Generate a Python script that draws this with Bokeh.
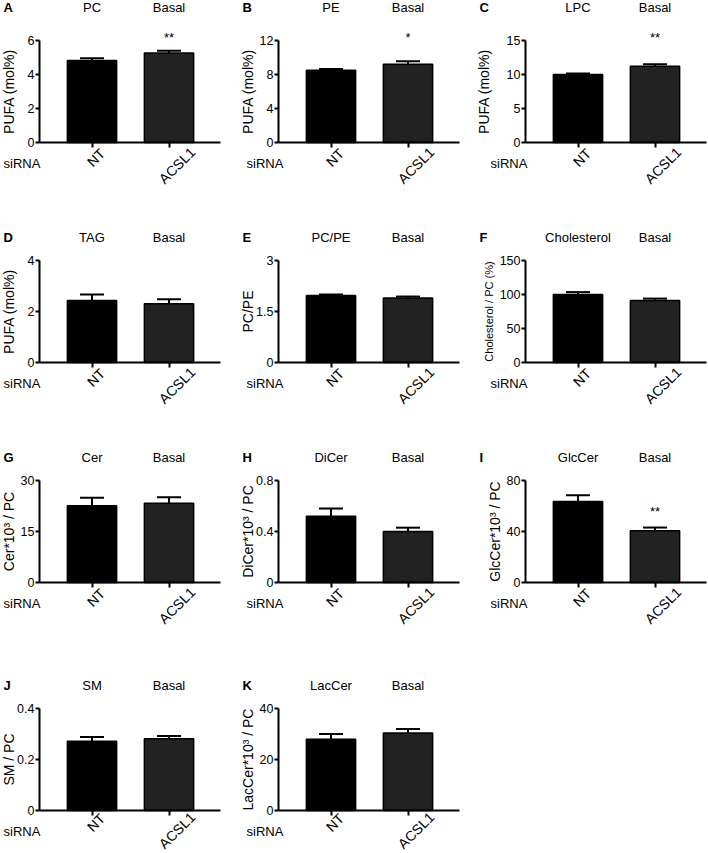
import math
from bokeh.plotting import figure
from bokeh.models import Range1d, FixedTicker, Label, Whisker, TeeHead, ColumnDataSource
from bokeh.layouts import column, row
from bokeh.embed import file_html
from bokeh.resources import INLINE

# ---------------- data ----------------
categories = ["NT", "ACSL1"]
letters = ["A", "B", "C", "D", "E", "F", "G", "H", "I", "J", "K"]
lipids = ["PC", "PE", "LPC", "TAG", "PC/PE", "Cholesterol", "Cer", "DiCer", "GlcCer", "SM", "LacCer"]
condition = "Basal"
group_label = "siRNA"
y_labels = ["PUFA (mol%)", "PUFA (mol%)", "PUFA (mol%)", "PUFA (mol%)", "PC/PE",
            "Cholesterol / PC (%)", "Cer*10³ / PC", "DiCer*10³ / PC", "GlcCer*10³ / PC",
            "SM / PC", "LacCer*10³ / PC"]
y_ticks = [[0, 2, 4, 6], [0, 4, 8, 12], [0, 5, 10, 15], [0, 2, 4], [0, 1.5, 3],
           [0, 50, 100, 150], [0, 15, 30], [0, 0.4, 0.8], [0, 40, 80], [0, 0.2, 0.4], [0, 20, 40]]
y_tick_labels = [["0", "2", "4", "6"], ["0", "4", "8", "12"], ["0", "5", "10", "15"], ["0", "2", "4"],
                 ["0", "1.5", "3"], ["0", "50", "100", "150"], ["0", "15", "30"], ["0", "0.4", "0.8"],
                 ["0", "40", "80"], ["0", "0.2", "0.4"], ["0", "20", "40"]]
nt_mean = [4.83, 8.5, 10.0, 2.43, 1.97, 100, 22.6, 0.52, 63.5, 0.272, 27.9]
nt_sem = [0.12, 0.15, 0.15, 0.24, 0.03, 3.5, 2.3, 0.06, 5.0, 0.016, 2.1]
acsl1_mean = [5.27, 9.2, 11.2, 2.30, 1.90, 91, 23.3, 0.40, 40.6, 0.281, 30.4]
acsl1_sem = [0.12, 0.35, 0.30, 0.18, 0.04, 3.0, 1.8, 0.03, 2.5, 0.011, 1.6]
significance = ["**", "*", "**", "", "", "", "", "", "**", "", ""]

# ---------------- layout / style ----------------
FONT = "Liberation Sans"
bar_colors = ["#000000", "#222222"]
star_y = {0: 6.2, 1: 12.35, 2: 15.45, 8: 56}       # vertical placement of significance marks
ylabel_size = {5: "11px"}
ylabel_dx = {2: 42, 5: 36.5}   # px from y-axis to centre of the axis title (default below)
YLABEL_DX = 31
COL_W = [236, 236, 236]
AXIS_L = [39, 42, 53]          # px from figure left to y-axis
ROW_H = [220, 220, 220, 193]
AXIS_T = [40, 40, 40, 48]      # px from figure top to top of y-axis
AXIS_H = 102                   # px length of y-axis
CAT_FIRST = 52.5               # px from y-axis to first category
CAT_STEP = 77                  # px between categories
XAXIS_LEN = 181
TITLE_GAP = [33, 23, 23, 23]
LETTER_X = [3, 6, 7]
GROUP_X = [3, 10, 18]
GROUP_DY = 21
ROT_OFF = {"NT": (4, 15), "ACSL1": (8, 23)}
ROT_ROW_SHIFT = [0, 0, 0, -3]
UP45 = math.pi / 4             # reads bottom-left to top-right
UP90 = math.pi / 2             # reads bottom to top

cat_pos = {cat: k + 0.5 for k, cat in enumerate(categories)}


def make_panel(i):
    c, r = i % 3, i // 3
    W, H, L, T = COL_W[c], ROW_H[r], AXIS_L[c], AXIS_T[r]
    ymax = y_ticks[i][-1]
    pyu = AXIS_H / ymax
    y_lo = -(H - T - AXIS_H) / pyu
    y_hi = ymax + T / pyu
    x_lo = cat_pos[categories[0]] - (L + CAT_FIRST) / CAT_STEP
    x_hi = x_lo + W / CAT_STEP
    x_axis_at = x_lo + L / CAT_STEP

    p = figure(width=W, height=H, x_range=Range1d(x_lo, x_hi), y_range=Range1d(y_lo, y_hi),
               output_backend="svg", toolbar_location=None, min_border=0, title=None)
    p.outline_line_color = None
    p.grid.visible = False
    p.background_fill_color = "white"

    xs = [cat_pos[cat] for cat in categories]
    means = [nt_mean[i], acsl1_mean[i]]
    sems = [nt_sem[i], acsl1_sem[i]]
    src = ColumnDataSource(dict(x=xs, top=means,
                                upper=[m + s for m, s in zip(means, sems)],
                                color=bar_colors))
    p.vbar(x="x", top="top", width=0.64, source=src, fill_color="color",
           line_color="black", line_width=1.5)
    p.add_layout(Whisker(base="x", lower="top", upper="upper", source=src,
                         line_color="black", line_width=2, lower_head=None,
                         upper_head=TeeHead(size=24, line_width=2, line_color="black")))

    for ax in (p.xaxis[0], p.yaxis[0]):
        ax.axis_line_width = 2
        ax.axis_line_color = "black"
        ax.major_tick_line_width = 2
        ax.major_tick_line_color = "black"
        ax.minor_tick_line_color = None
        ax.major_tick_in = 0
        ax.major_label_text_font = FONT
        ax.major_label_text_font_size = "12.5px"
        ax.major_label_text_color = "black"

    yax = p.yaxis[0]
    yax.fixed_location = x_axis_at
    yax.bounds = (0, ymax)
    yax.ticker = FixedTicker(ticks=y_ticks[i])
    yax.major_label_overrides = {t: lab for t, lab in zip(y_ticks[i], y_tick_labels[i])}
    yax.major_tick_out = 4
    yax.major_label_standoff = 1

    xax = p.xaxis[0]
    xax.fixed_location = 0
    xax.bounds = (x_axis_at, x_axis_at + XAXIS_LEN / CAT_STEP)
    xax.ticker = FixedTicker(ticks=xs)
    xax.major_label_overrides = {x: "" for x in xs}
    xax.major_tick_out = 5

    common = dict(text_font=FONT, text_font_size="13px", text_color="black", text_baseline="middle")
    # y-axis title
    p.add_layout(Label(x=L - ylabel_dx.get(i, YLABEL_DX), y=ymax / 2, x_units="screen",
                       text=y_labels[i], angle=UP90, text_align="center",
                       **{**common, "text_font_size": ylabel_size.get(i, "14px")}))
    # category labels, rotated 45 degrees under each tick
    for cat in categories:
        dx, dy = ROT_OFF[cat]
        p.add_layout(Label(x=cat_pos[cat], y=0, x_offset=dx, y_offset=-(dy + ROT_ROW_SHIFT[r]),
                           text=cat, angle=UP45, text_align="center",
                           **{**common, "text_font_size": "14px"}))
    p.add_layout(Label(x=LETTER_X[c], y=ymax, x_units="screen", y_offset=TITLE_GAP[r],
                       text=letters[i], text_font_style="bold", text_align="left", **common))
    for cat, txt in zip(categories, [lipids[i], condition]):
        p.add_layout(Label(x=cat_pos[cat], y=ymax, y_offset=TITLE_GAP[r], text=txt,
                           text_align="center", **common))
    p.add_layout(Label(x=GROUP_X[c], y=0, x_units="screen", y_offset=-GROUP_DY,
                       text=group_label, text_align="left", **common))
    if significance[i]:
        p.add_layout(Label(x=cat_pos[categories[1]], y=star_y[i], text=significance[i],
                           text_align="center", **common))
    return p


panels = [make_panel(i) for i in range(len(letters))]
layout = column(row(*panels[0:3]), row(*panels[3:6]), row(*panels[6:9]), row(*panels[9:11]))

open("out.html", "w").write(file_html(layout, INLINE))
